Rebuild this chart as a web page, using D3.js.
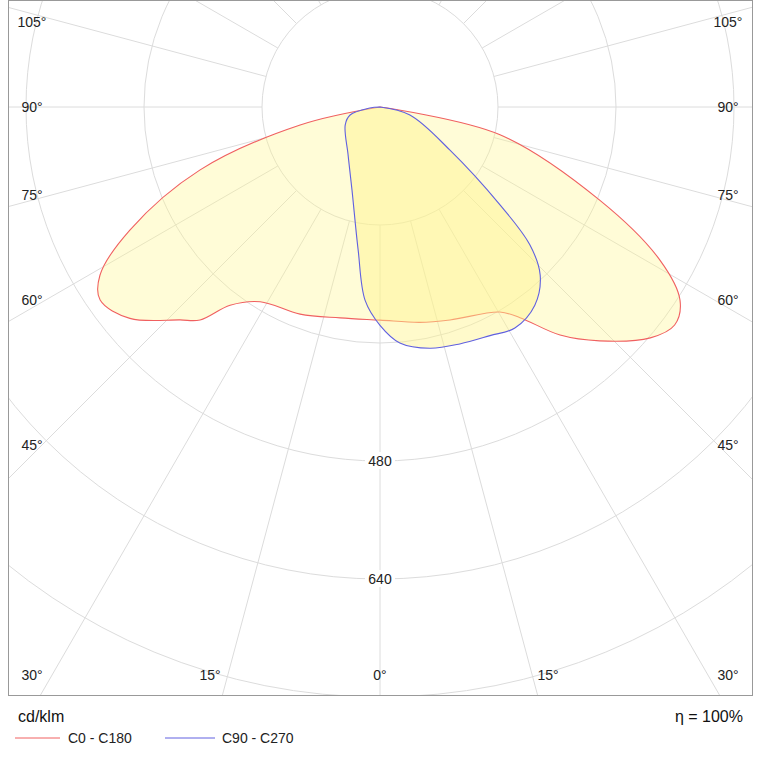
<!DOCTYPE html>
<html><head><meta charset="utf-8">
<script src="https://cdn.jsdelivr.net/npm/d3@7"></script>
<style>body{margin:0;background:#fff;font-family:Arial,"Liberation Sans",sans-serif}</style>
</head><body><svg id="c" width="767" height="767"></svg>
<script>
// Angles in degrees measured from nadir (positive = right), intensity in cd/klm
const redAngles = [-90,-77.3,-70.7,-63.8,-59,-55.4,-49.8,-43.2,-40.2,-37.1,-31.6,-21.1,-10.7,0,10.5,18.2,30.3,33.6,38.3,43.2,49.5,53.5,57.2,61.3,67,77,90];
const redValues = [0,111,259,378,443,461,444,396,378,337,310,301,291,289,297,304,322,343,394,435,482,497,484,433,324,167,0];
const blueAngles = [-90,-84,-75,-62.8,-33.7,-18.6,-8.7,-4.4,0,4.8,11.7,18.6,25.7,31.4,38,43.6,47.4,50.8,58.4,75,90];
const blueValues = [0,14,42,53,78,119,196,263,296,321,334,339,344,351,341,315,276,210,111,42,0];
const ringValues = [160,320,480,640,800,960,1120,1280];
const ringLabels = [480,640];
const angleLabels = ["105°","90°","75°","60°","45°","30°","15°","0°","15°","30°","45°","60°","75°","90°","105°"];

const svg = d3.select("#c");
const cx = 380, cy = 107;
const F = {x0:8,y0:0,x1:752,y1:695};
const r = d3.scaleLinear().domain([0,640]).range([0,472]);
const rad = d => d*Math.PI/180;

svg.append("defs").append("clipPath").attr("id","clip").append("rect")
  .attr("x",F.x0).attr("y",F.y0).attr("width",F.x1-F.x0).attr("height",F.y1-F.y0);
const g = svg.append("g").attr("clip-path","url(#clip)");
const c = g.append("g").attr("transform",`translate(${cx},${cy})`);

ringValues.forEach(v => c.append("circle").attr("r",r(v)).attr("fill","none").attr("stroke","#dcdcdc").attr("stroke-width",1));
for (let a=0; a<360; a+=15) {
  const s=Math.sin(rad(a)), co=Math.cos(rad(a));
  c.append("line").attr("x1",r(160)*s).attr("y1",r(160)*co).attr("x2",2000*s).attr("y2",2000*co)
    .attr("stroke","#dcdcdc").attr("stroke-width",1);
}

const line = (A,V) => d3.lineRadial().angle((d,i)=>Math.PI-rad(A[i])).radius((d,i)=>r(V[i])).curve(d3.curveCatmullRomClosed)(A);
c.append("path").attr("d",line(redAngles,redValues)).attr("fill","rgba(255,245,140,0.35)").attr("stroke","#f06060").attr("stroke-width",1.1);
c.append("path").attr("d",line(blueAngles,blueValues)).attr("fill","rgba(255,245,140,0.45)").attr("stroke","#6060e0").attr("stroke-width",1.1);

ringLabels.forEach(v => {
  const y = r(v);
  c.append("rect").attr("x",-15).attr("y",y-9).attr("width",30).attr("height",17).attr("fill","#fff");
  c.append("text").attr("x",0).attr("y",y+5).attr("text-anchor","middle").attr("font-size",14).attr("fill","#222").text(v);
});

// label positions along the frame
const labelPos = [[32,22],[32,107],[32,195],[32,300],[32,445],[32,675],[210,675],[380,675],[548,675],[728,675],[728,445],[728,300],[728,195],[728,107],[728,22]];
angleLabels.forEach((t,i) => {
  svg.append("text").attr("x",labelPos[i][0]).attr("y",labelPos[i][1]+5).attr("text-anchor","middle")
    .attr("font-size",14).attr("fill","#222").text(t);
});

svg.append("rect").attr("x",F.x0+0.5).attr("y",F.y0+0.5).attr("width",F.x1-F.x0).attr("height",F.y1-F.y0)
  .attr("fill","none").attr("stroke","#999");

svg.append("text").attr("x",18).attr("y",722).attr("font-size",16).attr("fill","#111").text("cd/klm");
svg.append("text").attr("x",743).attr("y",722).attr("text-anchor","end").attr("font-size",16).attr("fill","#111").text("η = 100%");
svg.append("line").attr("x1",15).attr("x2",60).attr("y1",738).attr("y2",738).attr("stroke","#f06060");
svg.append("text").attr("x",68).attr("y",743).attr("font-size",14).attr("fill","#222").text("C0 - C180");
svg.append("line").attr("x1",165).attr("x2",215).attr("y1",738).attr("y2",738).attr("stroke","#6060e0");
svg.append("text").attr("x",222).attr("y",743).attr("font-size",14).attr("fill","#222").text("C90 - C270");
</script></body></html>
